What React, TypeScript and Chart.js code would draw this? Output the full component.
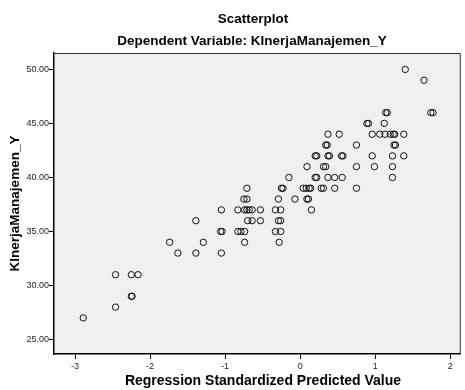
import React, { useEffect, useRef } from "react";
import { Chart, registerables } from "chart.js";

Chart.register(...registerables);

const FONT = "'Liberation Sans', Arial, sans-serif";

const chartTitle = "Scatterplot";
const chartSubtitle = "Dependent Variable: KInerjaManajemen_Y";
const xAxisTitle = "Regression Standardized Predicted Value";
const yAxisTitle = "KInerjaManajemen_Y";

const xTicks = [-3, -2, -1, 0, 1, 2];
const yTicks = [25, 30, 35, 40, 45, 50];

// Regression standardized predicted value (x) and observed KInerjaManajemen_Y (y), in parallel
const predicted = [
  1.40,
  1.65,
  1.14, 1.16, 1.74, 1.77,
  0.89, 0.91, 1.12,
  0.37, 0.52, 0.96, 1.06, 1.13, 1.20, 1.24, 1.26, 1.38,
  0.34, 0.36, 0.75, 1.25, 1.27,
  0.20, 0.22, 0.37, 0.39, 0.55, 0.57, 0.96, 1.23, 1.38,
  0.09, 0.31, 0.34, 0.75, 0.99, 1.23,
  -0.15, 0.20, 0.22, 0.37, 0.46, 0.56, 1.23,
  -0.71, -0.25, -0.23, 0.04, 0.08, 0.12, 0.14, 0.28, 0.31, 0.46, 0.75,
  -0.75, -0.71, -0.29, -0.07, 0.09, 0.11,
  -1.05, -0.83, -0.74, -0.71, -0.68, -0.64, -0.53, -0.33, -0.26, 0.15,
  -1.39, -0.70, -0.64, -0.53, -0.29, -0.26,
  -1.06, -1.04, -0.83, -0.79, -0.74, -0.33, -0.26,
  -1.74, -1.29, -0.74, -0.28,
  -1.63, -1.39, -1.05,
  -2.46, -2.25, -2.16,
  -2.25, -2.24,
  -2.46,
  -2.89,
];

const observed = [
  50,
  49,
  46, 46, 46, 46,
  45, 45, 45,
  44, 44, 44, 44, 44, 44, 44, 44, 44,
  43, 43, 43, 43, 43,
  42, 42, 42, 42, 42, 42, 42, 42, 42,
  41, 41, 41, 41, 41, 41,
  40, 40, 40, 40, 40, 40, 40,
  39, 39, 39, 39, 39, 39, 39, 39, 39, 39, 39,
  38, 38, 38, 38, 38, 38,
  37, 37, 37, 37, 37, 37, 37, 37, 37, 37,
  36, 36, 36, 36, 36, 36,
  35, 35, 35, 35, 35, 35, 35,
  34, 34, 34, 34,
  33, 33, 33,
  31, 31, 31,
  29, 29,
  28,
  27,
];

export default function App() {
  const ref = useRef<HTMLCanvasElement>(null);

  useEffect(() => {
    if (!ref.current) return;

    const decor = {
      id: "decor",
      beforeDraw(chart: any) {
        const { ctx, chartArea: a } = chart;
        ctx.save();
        ctx.fillStyle = "#ffffff";
        ctx.fillRect(0, 0, chart.width, chart.height);
        ctx.fillStyle = "#F0F0F0";
        ctx.fillRect(a.left, a.top, a.right - a.left, a.bottom - a.top);
        ctx.restore();
      },
      beforeDatasetsDraw(chart: any) {
        const { ctx, chartArea: a } = chart;
        ctx.save();
        ctx.strokeStyle = "#333";
        ctx.lineWidth = 1;
        ctx.beginPath();
        ctx.moveTo(a.left, a.top + 0.5);
        ctx.lineTo(a.right - 0.5, a.top + 0.5);
        ctx.lineTo(a.right - 0.5, a.bottom);
        ctx.stroke();
        ctx.restore();
      },
      afterDraw(chart: any) {
        const { ctx, chartArea: a } = chart;
        ctx.save();
        ctx.fillStyle = "#000";
        ctx.textAlign = "center";
        ctx.textBaseline = "middle";
        ctx.font = `bold 13.5px ${FONT}`;
        ctx.fillText(chartTitle, 253, 19);
        ctx.fillText(chartSubtitle, 252, 41);
        ctx.font = `bold 14px ${FONT}`;
        ctx.fillText(xAxisTitle, 263, 381);
        ctx.font = `bold 13.5px ${FONT}`;
        ctx.translate(15, (a.top + a.bottom) / 2);
        ctx.rotate(-Math.PI / 2);
        ctx.fillText(yAxisTitle, 0, 0);
        ctx.restore();
      },
    };

    const chart = new Chart(ref.current, {
      type: "scatter",
      data: {
        datasets: [
          {
            data: predicted.map((x, i) => ({ x, y: observed[i] })),
            pointStyle: "circle",
            pointRadius: 3.2,
            pointHoverRadius: 3.2,
            borderWidth: 1,
            borderColor: "#111",
            backgroundColor: "rgba(0,0,0,0)",
          },
        ],
      },
      options: {
        responsive: false,
        animation: false,
        devicePixelRatio: 1,
        layout: { padding: { top: 53, right: 2, left: 0, bottom: 0 } },
        plugins: {
          legend: { display: false },
          tooltip: { enabled: false },
          title: { display: false },
        },
        scales: {
          x: {
            type: "linear",
            min: -3.28,
            max: 2.14,
            afterFit: (s: any) => {
              s.height = 36;
            },
            afterBuildTicks: (s: any) => {
              s.ticks = xTicks.map((v) => ({ value: v }));
            },
            ticks: {
              font: { family: FONT, size: 9 },
              color: "#222",
              padding: 2,
              maxRotation: 0,
              autoSkip: false,
              callback: (v: any) => String(v),
            },
            grid: {
              drawOnChartArea: false,
              drawTicks: true,
              tickLength: 5,
              color: "#000",
            },
            border: { display: true, color: "#000", width: 1.5 },
          },
          y: {
            type: "linear",
            min: 23.66,
            max: 51.52,
            afterFit: (s: any) => {
              s.width = 54;
            },
            afterBuildTicks: (s: any) => {
              s.ticks = yTicks.map((v) => ({ value: v }));
            },
            ticks: {
              font: { family: FONT, size: 9 },
              color: "#222",
              padding: 0,
              autoSkip: false,
              callback: (v: any) => Number(v).toFixed(2),
            },
            grid: {
              drawOnChartArea: false,
              drawTicks: true,
              tickLength: 5,
              color: "#000",
            },
            border: { display: true, color: "#000", width: 1.5 },
          },
        },
      },
      plugins: [decor],
    });

    return () => chart.destroy();
  }, []);

  return (
    <div style={{ position: "fixed", left: 0, top: 0, width: 465, height: 390 }}>
      <canvas ref={ref} width={465} height={390} style={{ display: "block" }} />
    </div>
  );
}
